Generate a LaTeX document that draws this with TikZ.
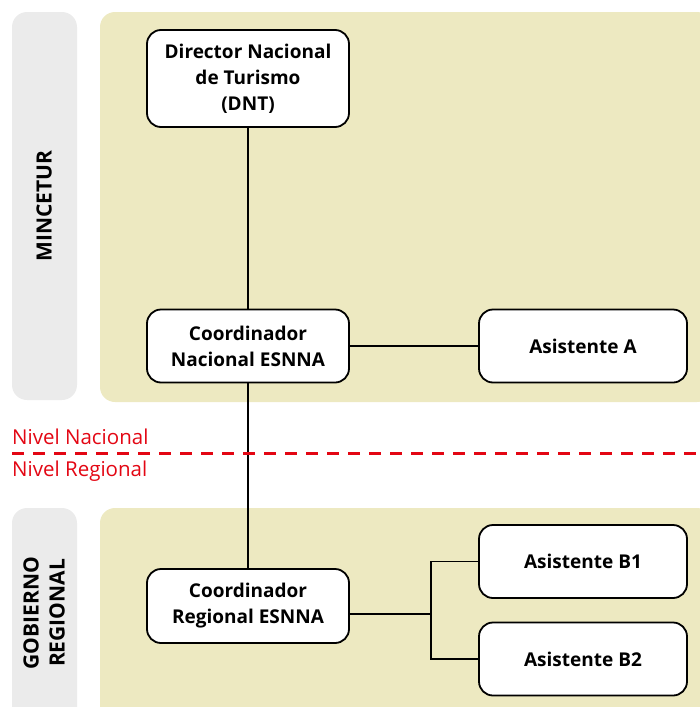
\documentclass[tikz,border=0pt]{standalone}
\usepackage{fontspec}
\setmainfont{Open Sans}
\usetikzlibrary{positioning}
\definecolor{panelbeige}{RGB}{237,233,193}
\definecolor{panelgrey}{RGB}{235,235,235}
\definecolor{nivelred}{RGB}{227,6,19}
\tikzset{
    orgbox/.style={draw, line width=1.8pt, fill=white, rounded corners=14pt, minimum width=202pt,
        align=center, font=\fontsize{19}{26}\selectfont\bfseries},
    asisbox/.style={orgbox, minimum width=208pt, minimum height=73pt},
    sidelabel/.style={rotate=90, align=center, font=\fontsize{21}{26}\selectfont\bfseries},
    nivel/.style={nivelred, anchor=base west, inner sep=0pt, font=\fontsize{20.5}{22}\selectfont},
    link/.style={line width=1.8pt}
}
\begin{document}
\begin{tikzpicture}[x=1pt, y=-1pt]
    \useasboundingbox (0,0) rectangle (700,707);

    % Draw panels
    \fill[panelgrey, rounded corners=15pt] (12,12) rectangle (77,400);
    \fill[panelbeige, rounded corners=15pt] (100,12) rectangle (712,402);
    \fill[panelgrey, rounded corners=15pt] (12,508) rectangle (77,730);
    \fill[panelbeige, rounded corners=15pt] (100,508) rectangle (712,730);

    % Side labels
    \node[sidelabel] (mincetur) at (44,206) {MINCETUR};
    \node[sidelabel] (gobierno) at (44,613) {GOBIERNO\\REGIONAL};

    % Draw boxes
    \node[orgbox, minimum height=97pt] (dnt) at (248,78.5) {Director Nacional\\de Turismo\\(DNT)};
    \node[orgbox, minimum height=73pt] (cn) at (248,346) {Coordinador\\Nacional ESNNA};
    \node[asisbox] (asa) at (583,346) {Asistente A};
    \node[orgbox, minimum height=74pt] (cr) at (248,606) {Coordinador\\Regional ESNNA};
    \node[asisbox] (asb1) at (583,561.5) {Asistente B1};
    \node[asisbox] (asb2) at (583,659) {Asistente B2};

    % Connectors
    \draw[link] (dnt) -- (cn);
    \draw[link] (cn) -- (asa);
    \draw[link] (cn) -- (cr);
    \coordinate (fork) at (431,614);
    \draw[link] (cr.east |- fork) -- (fork);
    \draw[link] (asb1.west) -| (fork) |- (asb2.west);

    % Nivel divider
    \draw[nivelred, line width=3pt, dash pattern=on 12pt off 9pt] (12,453) -- (700,453);
    \node[nivel] (nacional) at (12,444) {Nivel Nacional};
    \node[nivel] (regional) at (12,476) {Nivel Regional};
\end{tikzpicture}
\end{document}
